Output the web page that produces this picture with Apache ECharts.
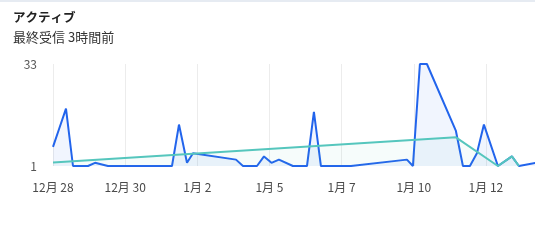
<!DOCTYPE html>
<html>
<head>
<meta charset="utf-8">
<script src="https://cdn.jsdelivr.net/npm/echarts@6/dist/echarts.min.js"></script>
<style>
html,body{margin:0;padding:0;background:#fff;}
#c{width:535px;height:240px;}
</style>
</head>
<body>
<div id="c"></div>
<script>
const titleText = 'アクティブ';
const subText = '最終受信 3時間前';
const tickLabels = ['12月 28', '12月 30', '1月 2', '1月 5', '1月 7', '1月 10', '1月 12'];
const yTicks = [1, 33];
const activeX = [0, 0.9, 1.8, 2.77, 4.85, 5.82, 7.62, 16.49, 17.46, 18.57, 19.4, 25.36, 26.33, 28.27, 29.24, 30.28, 31.31, 33.25, 35.2, 36.16, 37.13, 41.29, 49.05, 49.88, 50.85, 51.82, 55.84, 56.81, 57.78, 58.75, 59.72, 61.66, 63.6, 64.57, 67];
const activeY = [7, 13, 19, 1, 1, 2, 1, 1, 14, 2, 5, 3, 1, 1, 4, 2, 3, 1, 1, 18, 1, 1, 3, 1, 33, 33, 12, 1, 1, 5, 14, 1, 4, 1, 2];
const trendX = [0, 55.84, 61.66, 63.6, 64.57];
const trendY = [2.1, 10, 1, 4, 1];

const font = '"Noto Sans CJK JP", "Noto Sans", sans-serif';
const chart = echarts.init(document.getElementById('c'), null, {renderer: 'canvas'});
chart.setOption({
  animation: false,
  textStyle: {fontFamily: font},
  graphic: [
    {type: 'rect', shape: {x: 0, y: 0, width: 535, height: 2}, style: {fill: '#e6ebf2'}},
    {type: 'text', left: 13, top: 11, style: {text: titleText, font: 'bold 12.5px ' + font, fill: '#222'}},
    {type: 'text', left: 13, top: 31, style: {text: subText, font: '13px ' + font, fill: '#333'}}
  ],
  grid: {left: 53, right: 0, top: 64, bottom: 74},
  xAxis: {
    type: 'value', min: 0, max: 66.8, interval: 10,
    axisLine: {show: false}, axisTick: {show: false},
    splitLine: {show: true, showMaxLine: false, lineStyle: {color: '#ececec', width: 1}},
    axisLabel: {
      margin: 15, fontSize: 12, color: '#4a4a4a', showMaxLabel: false,
      formatter: v => (v % 10 === 0 ? (tickLabels[v / 10] || '') : '')
    }
  },
  yAxis: {
    type: 'value', min: 1, max: 33,
    axisLine: {show: false}, axisTick: {show: false},
    splitLine: {show: false},
    axisLabel: {customValues: yTicks, margin: 16, fontSize: 12, color: '#555'}
  },
  series: [
    {
      type: 'line', data: activeX.map((x, i) => [x, activeY[i]]),
      showSymbol: false, z: 2,
      lineStyle: {color: '#2264ec', width: 2},
      itemStyle: {color: '#2264ec'},
      areaStyle: {color: 'rgba(37,102,232,0.09)'}
    },
    {
      type: 'line', data: trendX.map((x, i) => [x, trendY[i]]),
      showSymbol: false, z: 3,
      lineStyle: {color: '#55c6bd', width: 2},
      itemStyle: {color: '#55c6bd'},
      areaStyle: {color: 'rgba(85,198,189,0.08)'}
    }
  ]
});
</script>
</body>
</html>
